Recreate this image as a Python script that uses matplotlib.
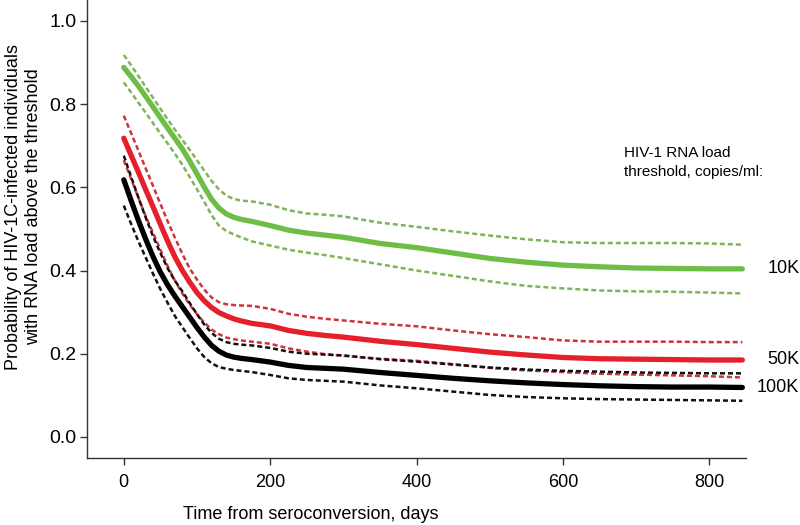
import matplotlib
matplotlib.use("Agg")
import matplotlib.pyplot as plt
import matplotlib.transforms as mtransforms

plt.rcParams['font.family'] = ['Liberation Sans', 'DejaVu Sans']

# days since seroconversion
days = [0, 10, 20, 30, 40, 50, 60, 70, 80, 90, 100, 110, 120, 130, 140, 150, 160, 175,
        200, 225, 250, 275, 300, 350, 400, 450, 500, 550, 600, 650, 700, 750, 800, 845]

# 10K threshold
p10 = [0.888, 0.866, 0.843, 0.818, 0.793, 0.767, 0.742, 0.717, 0.692, 0.663, 0.632, 0.600,
       0.571, 0.550, 0.536, 0.528, 0.523, 0.518, 0.508, 0.497, 0.490, 0.485, 0.480, 0.465,
       0.455, 0.442, 0.429, 0.420, 0.413, 0.409, 0.406, 0.405, 0.404, 0.404]
p10_hi = [0.918, 0.893, 0.867, 0.841, 0.815, 0.789, 0.763, 0.738, 0.714, 0.690, 0.665, 0.640,
          0.615, 0.595, 0.580, 0.572, 0.568, 0.566, 0.558, 0.545, 0.537, 0.534, 0.530, 0.515,
          0.505, 0.494, 0.484, 0.475, 0.468, 0.466, 0.466, 0.466, 0.465, 0.462]
p10_lo = [0.852, 0.828, 0.803, 0.779, 0.754, 0.729, 0.705, 0.680, 0.654, 0.625, 0.595, 0.565,
          0.533, 0.508, 0.495, 0.487, 0.480, 0.470, 0.460, 0.450, 0.443, 0.437, 0.430, 0.415,
          0.400, 0.387, 0.374, 0.363, 0.357, 0.352, 0.350, 0.349, 0.347, 0.345]

# 50K threshold
p50 = [0.718, 0.677, 0.636, 0.594, 0.553, 0.511, 0.470, 0.432, 0.400, 0.372, 0.347, 0.327,
       0.311, 0.299, 0.291, 0.284, 0.279, 0.273, 0.267, 0.256, 0.249, 0.244, 0.240, 0.230,
       0.222, 0.213, 0.204, 0.197, 0.191, 0.188, 0.187, 0.186, 0.185, 0.185]
p50_hi = [0.772, 0.730, 0.688, 0.645, 0.603, 0.560, 0.518, 0.478, 0.440, 0.405, 0.378, 0.354,
          0.335, 0.324, 0.319, 0.317, 0.316, 0.315, 0.308, 0.296, 0.289, 0.284, 0.280, 0.272,
          0.266, 0.256, 0.247, 0.240, 0.232, 0.229, 0.229, 0.229, 0.228, 0.228]
p50_lo = [0.665, 0.620, 0.575, 0.530, 0.490, 0.450, 0.410, 0.375, 0.345, 0.318, 0.295, 0.275,
          0.258, 0.247, 0.239, 0.235, 0.232, 0.229, 0.224, 0.213, 0.205, 0.199, 0.195, 0.188,
          0.183, 0.175, 0.166, 0.160, 0.156, 0.152, 0.150, 0.148, 0.146, 0.143]

# 100K threshold
p100 = [0.618, 0.568, 0.520, 0.475, 0.433, 0.396, 0.365, 0.338, 0.313, 0.288, 0.263, 0.240,
        0.220, 0.206, 0.197, 0.192, 0.189, 0.186, 0.180, 0.172, 0.167, 0.165, 0.163, 0.155,
        0.148, 0.141, 0.135, 0.130, 0.126, 0.123, 0.121, 0.120, 0.120, 0.119]
p100_hi = [0.676, 0.625, 0.575, 0.527, 0.482, 0.442, 0.405, 0.375, 0.350, 0.322, 0.295, 0.270,
           0.250, 0.236, 0.228, 0.224, 0.222, 0.220, 0.214, 0.205, 0.200, 0.198, 0.196, 0.187,
           0.181, 0.174, 0.167, 0.162, 0.159, 0.157, 0.155, 0.154, 0.153, 0.153]
p100_lo = [0.556, 0.512, 0.470, 0.431, 0.392, 0.355, 0.322, 0.290, 0.264, 0.238, 0.213, 0.192,
           0.177, 0.168, 0.164, 0.161, 0.159, 0.156, 0.149, 0.141, 0.137, 0.135, 0.133, 0.124,
           0.117, 0.109, 0.101, 0.096, 0.093, 0.091, 0.090, 0.089, 0.088, 0.087]

labels = ["10K", "50K", "100K"]

fig = plt.figure(figsize=(8, 5.25), dpi=100)
ax = fig.add_axes([0.109, 0.128, 0.8235, 0.872])

series = [
    (p10, p10_hi, p10_lo, "#6dbd47", "#80b45c"),
    (p50, p50_hi, p50_lo, "#e5202a", "#d2323e"),
    (p100, p100_hi, p100_lo, "#000000", "#111111"),
]
for mid, hi, lo, col, cicol in series:
    for ci in (hi, lo):
        ax.plot(days, ci, color=cicol, lw=1.8, linestyle=(0, (2, 1.2)))
    ax.plot(days, mid, color=col, lw=3.8, solid_capstyle='round', solid_joinstyle='round')

# threshold labels at the right end of each curve
trans = mtransforms.blended_transform_factory(ax.transAxes, ax.transData)
for lab, mid in zip(labels, [p10, p50, p100]):
    ax.text(1.081, mid[-1], lab, transform=trans, ha='right', va='center', fontsize=13, clip_on=False)

ax.text(684, 0.66, "HIV-1 RNA load\nthreshold, copies/ml:", fontsize=11, ha='left', va='center',
        linespacing=1.5)

ax.set_xlim(-50, 850)
ax.set_ylim(-0.05, 1.05)
ax.set_xticks([0, 200, 400, 600, 800])
ax.set_yticks([0, 0.2, 0.4, 0.6, 0.8, 1.0])
ax.set_yticklabels(["0.0", "0.2", "0.4", "0.6", "0.8", "1.0"], fontsize=14)
ax.set_xticklabels(["0", "200", "400", "600", "800"], fontsize=13)
for s in ("top", "right"):
    ax.spines[s].set_visible(False)
for s in ("left", "bottom"):
    ax.spines[s].set_color("#333333")
    ax.spines[s].set_linewidth(1.0)
ax.tick_params(axis='both', direction='out', length=5, width=1, color="#333333")
ax.tick_params(axis='y', pad=2.5)
ax.tick_params(axis='x', pad=7)

ax.set_xlabel("Time from seroconversion, days", fontsize=13)
ax.xaxis.set_label_coords(0.34, -0.105)
ax.set_ylabel("Probability of HIV-1C-infected individuals\nwith RNA load above the threshold",
              fontsize=13, linespacing=1.3)
ax.yaxis.set_label_coords(-0.068, 0.548)

fig.savefig("out.png", dpi=100)
